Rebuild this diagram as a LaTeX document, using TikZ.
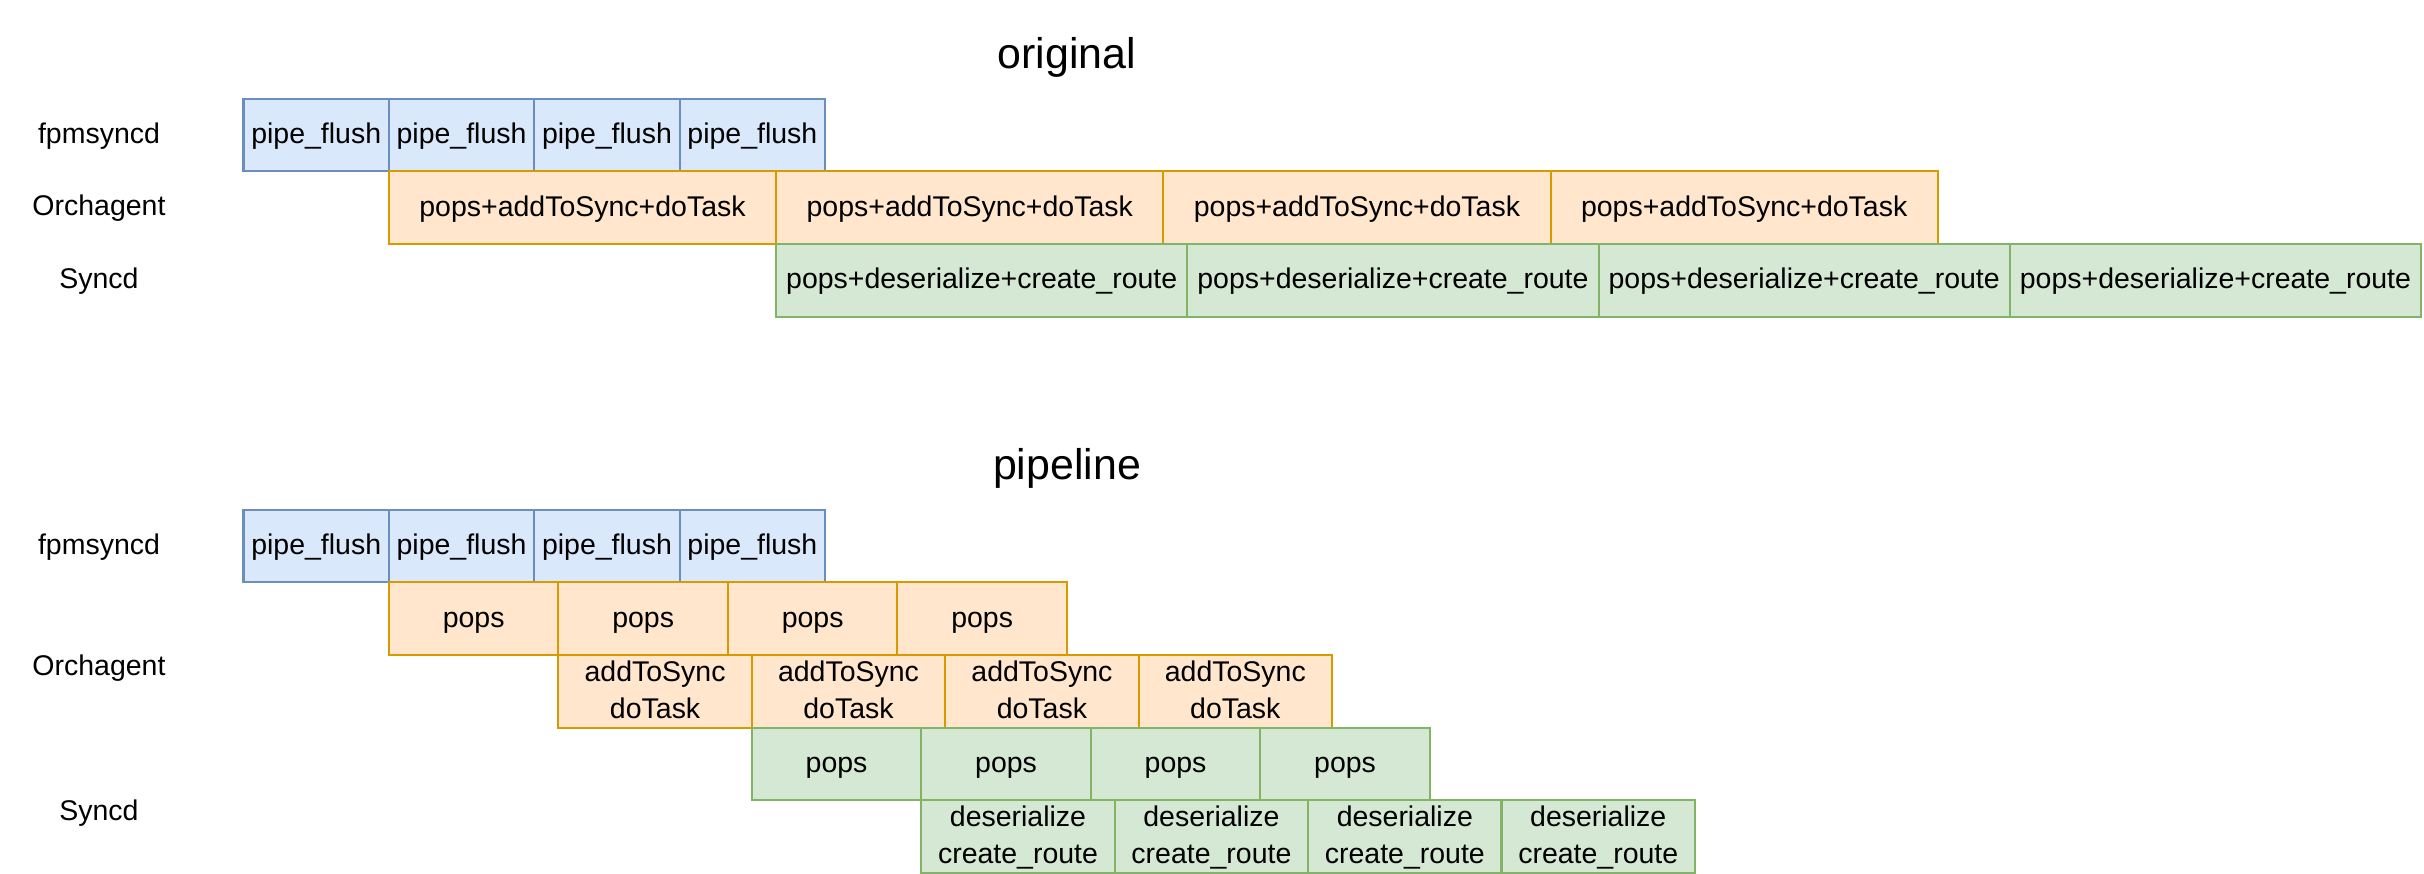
\documentclass[tikz,border=0pt]{standalone}
\usepackage{fontspec}
\setmainfont{Liberation Sans}
\usetikzlibrary{positioning}
\definecolor{flushfill}{HTML}{DAE8FC}
\definecolor{flushline}{HTML}{6C8EBF}
\definecolor{orchfill}{HTML}{FFE6CC}
\definecolor{orchline}{HTML}{D79B00}
\definecolor{syncfill}{HTML}{D5E8D4}
\definecolor{syncline}{HTML}{82B366}
\newcommand\cellstrut{\rule[-2pt]{0pt}{8.9pt}}

\begin{document}
\begin{tikzpicture}[x=0.01cm,y=-0.01cm,
  stage/.style={draw,line width=0.6pt,outer sep=0pt,inner sep=0pt,
    minimum height=0.726cm,align=center,text height=6.9pt,text depth=2pt,
    font=\fontsize{8.1}{10.4}\selectfont},
  twoline/.style={text height=,text depth=},
  flush/.style={stage,fill=flushfill,draw=flushline,minimum width=1.453cm},
  orch/.style={stage,fill=orchfill,draw=orchline},
  sync/.style={stage,fill=syncfill,draw=syncline},
  lane/.style={text height=6.9pt,text depth=2pt,font=\fontsize{8.1}{10.4}\selectfont},
  heading/.style={text height=10.4pt,text depth=3pt,font=\fontsize{12.2}{14}\selectfont}]

  \useasboundingbox (0,0) rectangle (2424,874);

  % original
  \node[heading] (OrgTitle) at (1067,56) {original};
  \node[lane] (OrgFpm) at (99,135) {fpmsyncd};
  \node[lane] (OrgOrch) at (99,207) {Orchagent};
  \node[lane] (OrgSync) at (99,280) {Syncd};

  \node[flush,anchor=north west] (OrFlushA) at (243.5,98.7) {pipe\_flush};
  \node[flush,right=0pt of OrFlushA] (OrFlushB) {pipe\_flush};
  \node[flush,right=0pt of OrFlushB] (OrFlushC) {pipe\_flush};
  \node[flush,right=0pt of OrFlushC] (OrFlushD) {pipe\_flush};

  \node[orch,minimum width=3.87cm,below right=0pt of OrFlushA] (OrTaskA) {pops+addToSync+doTask};
  \node[orch,minimum width=3.87cm,right=0pt of OrTaskA] (OrTaskB) {pops+addToSync+doTask};
  \node[orch,minimum width=3.87cm,right=0pt of OrTaskB] (OrTaskC) {pops+addToSync+doTask};
  \node[orch,minimum width=3.87cm,right=0pt of OrTaskC] (OrTaskD) {pops+addToSync+doTask};

  \node[sync,minimum width=4.11cm,below right=0pt of OrTaskA] (OrRouteA) {pops+deserialize+create\_route};
  \node[sync,minimum width=4.11cm,right=0pt of OrRouteA] (OrRouteB) {pops+deserialize+create\_route};
  \node[sync,minimum width=4.11cm,right=0pt of OrRouteB] (OrRouteC) {pops+deserialize+create\_route};
  \node[sync,minimum width=4.11cm,right=0pt of OrRouteC] (OrRouteD) {pops+deserialize+create\_route};

  % pipeline
  \node[heading] (PiTitle) at (1067,467) {pipeline};
  \node[lane] (PiFpm) at (99,546) {fpmsyncd};
  \node[lane] (PiOrch) at (99,667) {Orchagent};
  \node[lane] (PiSync) at (99,812) {Syncd};

  \node[flush,anchor=north west] (PiFlushA) at (243.5,509.7) {pipe\_flush};
  \node[flush,right=0pt of PiFlushA] (PiFlushB) {pipe\_flush};
  \node[flush,right=0pt of PiFlushB] (PiFlushC) {pipe\_flush};
  \node[flush,right=0pt of PiFlushC] (PiFlushD) {pipe\_flush};

  % Orchagent pops, then addToSync/doTask
  \node[orch,minimum width=1.694cm,below right=0pt of PiFlushA] (PiPopsA) {pops};
  \node[orch,minimum width=1.694cm,right=0pt of PiPopsA] (PiPopsB) {pops};
  \node[orch,minimum width=1.694cm,right=0pt of PiPopsB] (PiPopsC) {pops};
  \node[orch,minimum width=1.694cm,right=0pt of PiPopsC] (PiPopsD) {pops};

  \node[orch,twoline,minimum width=1.933cm,below right=0pt of PiPopsA] (PiTaskA) {\cellstrut addToSync\\\cellstrut doTask};
  \node[orch,twoline,minimum width=1.933cm,right=0pt of PiTaskA] (PiTaskB) {\cellstrut addToSync\\\cellstrut doTask};
  \node[orch,twoline,minimum width=1.933cm,right=0pt of PiTaskB] (PiTaskC) {\cellstrut addToSync\\\cellstrut doTask};
  \node[orch,twoline,minimum width=1.933cm,right=0pt of PiTaskC] (PiTaskD) {\cellstrut addToSync\\\cellstrut doTask};

  % Syncd pops, then deserialize/create_route
  \node[sync,minimum width=1.694cm,below right=0pt of PiTaskA] (PiSPopsA) {pops};
  \node[sync,minimum width=1.694cm,right=0pt of PiSPopsA] (PiSPopsB) {pops};
  \node[sync,minimum width=1.694cm,right=0pt of PiSPopsB] (PiSPopsC) {pops};
  \node[sync,minimum width=1.694cm,right=0pt of PiSPopsC] (PiSPopsD) {pops};

  \node[sync,twoline,minimum width=1.933cm,below right=0pt of PiSPopsA] (PiRouteA) {\cellstrut deserialize\\\cellstrut create\_route};
  \node[sync,twoline,minimum width=1.933cm,right=0pt of PiRouteA] (PiRouteB) {\cellstrut deserialize\\\cellstrut create\_route};
  \node[sync,twoline,minimum width=1.933cm,right=0pt of PiRouteB] (PiRouteC) {\cellstrut deserialize\\\cellstrut create\_route};
  \node[sync,twoline,minimum width=1.933cm,right=0pt of PiRouteC] (PiRouteD) {\cellstrut deserialize\\\cellstrut create\_route};
\end{tikzpicture}
\end{document}
